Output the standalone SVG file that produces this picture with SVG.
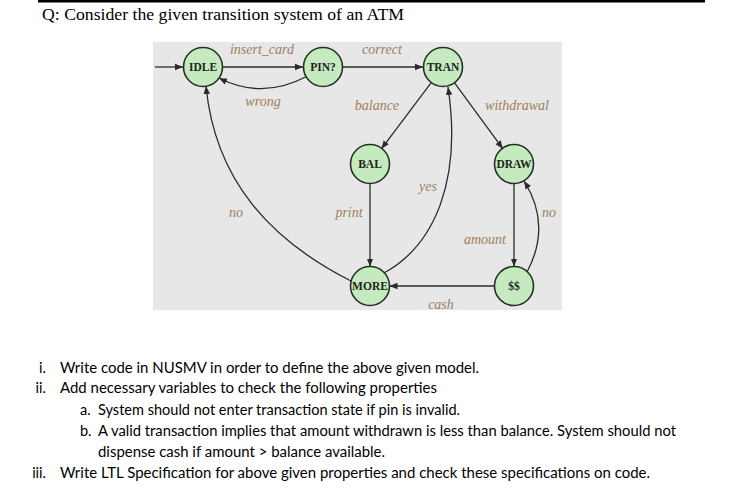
<svg xmlns="http://www.w3.org/2000/svg" width="753" height="499" viewBox="0 0 753 499">
<style>
.title{font-family:"Liberation Serif",serif;font-size:17.5px;fill:#000}
.node circle{fill:#c6eabf;stroke:#253025;stroke-width:1.6}
.node text{font-family:"Liberation Serif",serif;font-size:11.5px;font-weight:bold;fill:#1d251d;text-anchor:middle}
.edge{fill:none;stroke:#2a2a2a;stroke-width:1.3;marker-end:url(#ah)}
.lbl{font-family:"Liberation Serif",serif;font-style:italic;font-size:14px;fill:#9e8058;text-anchor:middle}
.body{font-family:Lato,"Open Sans",sans-serif;font-size:14.5px;fill:#000}
.num{font-family:Lato,"Open Sans",sans-serif;font-size:14.5px;fill:#000;text-anchor:end}
</style>
<defs>
<marker id="ah" viewBox="0 0 10 10" refX="10" refY="5" markerWidth="8" markerHeight="8" markerUnits="userSpaceOnUse" orient="auto">
<path d="M0,1 L10,5 L0,9 z" fill="#2a2a2a"/>
</marker>
</defs>
<rect x="0" y="0" width="753" height="499" fill="#fff"/>
<rect x="38" y="0" width="667" height="2.5" fill="#000"/>
<text class="title" x="42" y="20" textLength="362" lengthAdjust="spacingAndGlyphs">Q: Consider the given transition system of an ATM</text>
<rect x="153" y="42" width="409" height="268" fill="#e7e7e7"/>

<g id="connectors">
<path class="edge" d="M155 67 L183 67"/>
<path class="edge" d="M222.5 67 L303 67"/>
<path class="edge" d="M342.5 67 L423 67"/>
<path class="edge" d="M306.5 76.5 Q262 100 219 78"/>
<path class="edge" d="M431.6 82.2 L381.4 148.8"/>
<path class="edge" d="M454.2 82.3 L502.8 148.7"/>
<path class="edge" d="M370 183.5 L370 266.5"/>
<path class="edge" d="M514 183.5 L514 266.5"/>
<path class="edge" d="M494.5 286 L389.5 286"/>
<path class="edge" d="M384 273 C435 245 462 180 448 87"/>
<path class="edge" d="M527 272 Q552 225 524 181"/>
<path class="edge" d="M351 281 C270 240 215 180 206 86"/>
</g>

<g id="labels">
<text class="lbl" x="262" y="54">insert_card</text>
<text class="lbl" x="382" y="54">correct</text>
<text class="lbl" x="263" y="106">wrong</text>
<text class="lbl" x="377" y="110">balance</text>
<text class="lbl" x="517" y="110">withdrawal</text>
<text class="lbl" x="428" y="191">yes</text>
<text class="lbl" x="236" y="217">no</text>
<text class="lbl" x="349" y="217">print</text>
<text class="lbl" x="549" y="217">no</text>
<text class="lbl" x="485" y="244">amount</text>
<text class="lbl" x="441" y="309">cash</text>
</g>

<g id="IDLE" class="node"><circle cx="203" cy="67" r="19.5"/><text x="203" y="71">IDLE</text></g>
<g id="PIN" class="node"><circle cx="323" cy="67" r="19.5"/><text x="323" y="71">PIN?</text></g>
<g id="TRAN" class="node"><circle cx="443" cy="67" r="19.5"/><text x="443" y="71">TRAN</text></g>
<g id="BAL" class="node"><circle cx="370" cy="164" r="19.5"/><text x="370" y="168">BAL</text></g>
<g id="DRAW" class="node"><circle cx="514" cy="164" r="19.5"/><text x="514" y="168">DRAW</text></g>
<g id="MORE" class="node"><circle cx="370" cy="286" r="19.5"/><text x="370" y="290">MORE</text></g>
<g id="CASH" class="node"><circle cx="514" cy="286" r="19.5"/><text x="514" y="290">$$</text></g>

<g id="questions">
<text class="num" x="46" y="373">i.</text>
<text class="body" x="60" y="373" textLength="419" lengthAdjust="spacingAndGlyphs">Write code in NUSMV in order to define the above given model.</text>
<text class="num" x="46" y="393">ii.</text>
<text class="body" x="60" y="393" textLength="377" lengthAdjust="spacingAndGlyphs">Add necessary variables to check the following properties</text>
<text class="body" x="80" y="415">a.</text>
<text class="body" x="98" y="415" textLength="362" lengthAdjust="spacingAndGlyphs">System should not enter transaction state if pin is invalid.</text>
<text class="body" x="80" y="436">b.</text>
<text class="body" x="98" y="436" textLength="578" lengthAdjust="spacingAndGlyphs">A valid transaction implies that amount withdrawn is less than balance. System should not</text>
<text class="body" x="98" y="457" textLength="287" lengthAdjust="spacingAndGlyphs">dispense cash if amount &gt; balance available.</text>
<text class="num" x="46" y="478">iii.</text>
<text class="body" x="60" y="478" textLength="590" lengthAdjust="spacingAndGlyphs">Write LTL Specification for above given properties and check these specifications on code.</text>
</g>
</svg>
